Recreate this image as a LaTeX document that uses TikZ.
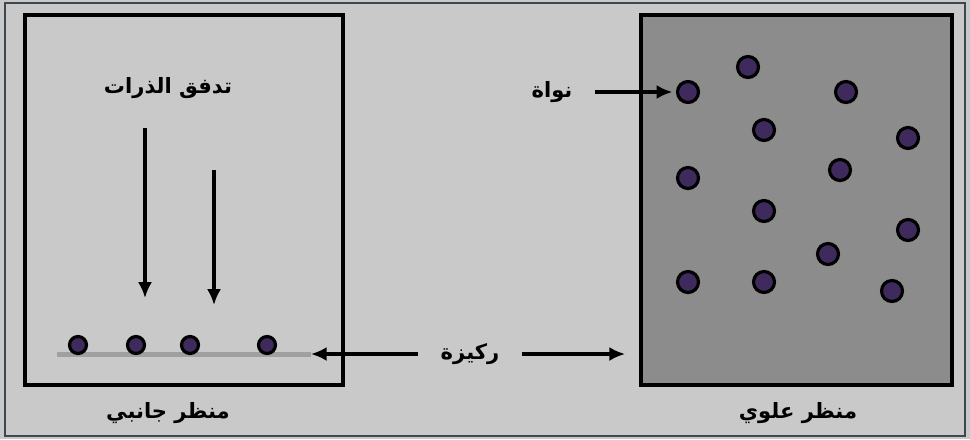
\documentclass[tikz,border=0pt]{standalone}
\usepackage{fontspec}
\usepackage{xcolor}
\usetikzlibrary{arrows.meta}
\newfontfamily\arabicfont[Script=Arabic, BoldFont={DejaVu Sans Bold}]{DejaVu Sans}
\TeXXeTstate=1

\definecolor{paper}{RGB}{201,201,201}
\definecolor{frame}{RGB}{60,72,80}
\definecolor{topview}{RGB}{140,140,140}
\definecolor{substrate}{RGB}{160,160,160}
\definecolor{nucleus}{RGB}{62,42,92}

\tikzset{
  >={Latex[length=9pt, width=8pt]},
  artext/.style={font=\arabicfont\bfseries\fontsize{12}{14}\selectfont},
  pointer/.style={artext, inner xsep=0.45cm},
  box/.style={draw, line width=2pt, inner sep=0pt},
  flow/.style={->, line width=2pt},
  dot/.style={circle, draw=black, line width=1.8pt, fill=nucleus, inner sep=0pt},
  smalldot/.style={dot, minimum size=0.34cm},
  bigdot/.style={dot, minimum size=0.42cm},
}

\begin{document}
\begin{tikzpicture}[x=0.2mm, y=-0.2mm]
  % Page and frame
  \fill[paper] (0,0) rectangle (970,439);
  \useasboundingbox (0,0) rectangle (970,439);
  \draw[frame, line width=1.4pt] (5,3) rectangle (965,436);

  % Side view box
  \node[box, minimum width=6.36cm, minimum height=7.4cm] (side) at (184,200) {};
  % Top view box
  \node[box, fill=topview, minimum width=6.22cm, minimum height=7.4cm] (top) at (796.5,200) {};

  % Atom flux
  \node[artext] (flux) at (168,88) {\beginR تدفق الذرات\endR};
  \coordinate (f1a) at (145,128);
  \coordinate (f1b) at (145,298);
  \coordinate (f2a) at (214,170);
  \coordinate (f2b) at (214,305);
  \draw[flow] (f1a) -- (f1b);
  \draw[flow] (f2a) -- (f2b);

  % Substrate with nuclei (side)
  \node[fill=substrate, minimum width=5.06cm, minimum height=0.1cm, inner sep=0pt] (sub) at (184,354) {};
  \foreach \x [count=\i] in {78,136,190,267}
    \node[smalldot] (s\i) at (\x,345) {};

  % Nuclei (top)
  \foreach \x/\y [count=\i] in {748/67, 688/92, 846/92, 764/130, 908/138, 688/178, 840/170,
                                764/211, 908/230, 828/254, 688/282, 764/282, 892/291}
    \node[bigdot] (n\i) at (\x,\y) {};

  % Labels with arrows
  \node[pointer] (nuc) at (552,92) {\beginR نواة\endR};
  \draw[flow, shorten >=2pt] (nuc) -- (n2);

  \node[pointer] (rk) at (470,354) {\beginR ركيزة\endR};
  \draw[flow] (rk) -- (sub.east);
  \draw[flow, shorten >=8pt] (rk) -- (top.west |- rk);

  % Captions
  \node[artext] (cside) at (168,413) {\beginR منظر جانبي\endR};
  \node[artext] (ctop) at (798,413) {\beginR منظر علوي\endR};
\end{tikzpicture}
\end{document}
